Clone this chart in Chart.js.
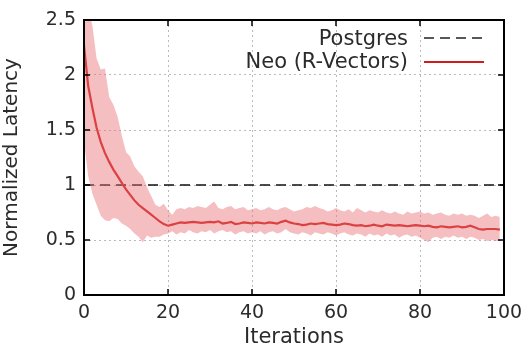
<!DOCTYPE html>
<html>
<head>
<meta charset="utf-8">
<script src="https://cdn.jsdelivr.net/npm/chart.js@4"></script>
<style>
  html, body { margin: 0; padding: 0; background: #fff; }
  #wrap { width: 532px; height: 350px; }
</style>
</head>
<body>
<div id="wrap"><canvas id="latencyChart" width="532" height="350"></canvas></div>
<script>
// iterations 0..99
const iterations = Array.from({ length: 100 }, (_, i) => i);

const neoMean = [
  2.27, 1.90, 1.70, 1.52, 1.39, 1.29, 1.21, 1.14, 1.08, 1.02,
  0.96, 0.91, 0.86, 0.82, 0.79, 0.76, 0.73, 0.70, 0.67, 0.645,
  0.63, 0.64, 0.65, 0.66, 0.655, 0.66, 0.665, 0.66, 0.655, 0.66,
  0.665, 0.66, 0.67, 0.65, 0.655, 0.665, 0.645, 0.65, 0.66, 0.655,
  0.65, 0.66, 0.655, 0.65, 0.66, 0.655, 0.65, 0.665, 0.675, 0.66,
  0.65, 0.645, 0.635, 0.64, 0.65, 0.645, 0.65, 0.655, 0.645, 0.64,
  0.635, 0.64, 0.65, 0.645, 0.635, 0.63, 0.635, 0.625, 0.63, 0.64,
  0.63, 0.625, 0.64, 0.635, 0.63, 0.635, 0.63, 0.625, 0.63, 0.635,
  0.63, 0.625, 0.63, 0.62, 0.615, 0.625, 0.62, 0.615, 0.62, 0.625,
  0.615, 0.62, 0.63, 0.615, 0.60, 0.595, 0.60, 0.60, 0.60, 0.595
];

const neoUpper = [
  2.65, 2.60, 2.45, 2.15, 2.05, 2.06, 1.80, 1.73, 1.62, 1.45,
  1.30, 1.26, 1.17, 1.12, 1.08, 0.98, 0.90, 0.82, 0.80, 0.83,
  0.77, 0.73, 0.78, 0.79, 0.78, 0.80, 0.79, 0.81, 0.80, 0.79,
  0.82, 0.85, 0.79, 0.78, 0.80, 0.81, 0.78, 0.79, 0.80, 0.77,
  0.78, 0.79, 0.77, 0.78, 0.80, 0.78, 0.77, 0.79, 0.80, 0.78,
  0.76, 0.77, 0.78, 0.80, 0.79, 0.81, 0.79, 0.78, 0.76, 0.77,
  0.79, 0.77, 0.76, 0.78, 0.75, 0.79, 0.77, 0.75, 0.77, 0.76,
  0.75, 0.77, 0.75, 0.74, 0.76, 0.74, 0.73, 0.76, 0.74, 0.75,
  0.76, 0.74, 0.75, 0.73, 0.74, 0.75, 0.73, 0.72, 0.74, 0.73,
  0.74, 0.72, 0.73, 0.72, 0.70, 0.72, 0.74, 0.71, 0.72, 0.71
];

const neoLower = [
  1.40, 1.08, 0.92, 0.82, 0.72, 0.68, 0.67, 0.70, 0.69, 0.65,
  0.63, 0.60, 0.56, 0.53, 0.48, 0.54, 0.52, 0.53, 0.53, 0.55,
  0.56, 0.58, 0.55, 0.57, 0.56, 0.59, 0.57, 0.56, 0.58, 0.57,
  0.59, 0.56, 0.58, 0.59, 0.57, 0.58, 0.55, 0.57, 0.58, 0.56,
  0.57, 0.56, 0.58, 0.55, 0.57, 0.58, 0.56, 0.57, 0.60, 0.57,
  0.56, 0.55, 0.57, 0.56, 0.54, 0.57, 0.56, 0.55, 0.57, 0.56,
  0.54, 0.56, 0.57, 0.55, 0.54, 0.56, 0.55, 0.53, 0.56, 0.54,
  0.55, 0.53, 0.56, 0.54, 0.55, 0.52, 0.54, 0.55, 0.53, 0.54,
  0.52, 0.50, 0.48, 0.52, 0.53, 0.51, 0.53, 0.52, 0.54, 0.52,
  0.53, 0.51, 0.53, 0.52, 0.50, 0.51, 0.49, 0.50, 0.49, 0.49
];

const postgresX = [0, 100];
const postgresY = [1, 1];

const xTicks = [0, 20, 40, 60, 80, 100];
const yTicks = [0, 0.5, 1, 1.5, 2, 2.5];

const FONT = "'DejaVu Sans', sans-serif";
const TEXT = "#2b2b2b";
const RED = "#d01c1c";

const pts = (xs, ys) => xs.map((x, i) => ({ x: x, y: ys[i] }));

// gnuplot style frame + inward ticks + legend
const framePlugin = {
  id: "frame",
  afterDraw(chart) {
    const { ctx, chartArea: a, scales } = chart;
    ctx.save();
    ctx.strokeStyle = "#000";
    ctx.lineWidth = 1.5;
    xTicks.forEach(v => {
      const px = scales.x.getPixelForValue(v);
      ctx.beginPath();
      ctx.moveTo(px, a.bottom); ctx.lineTo(px, a.bottom - 6);
      ctx.moveTo(px, a.top); ctx.lineTo(px, a.top + 6);
      ctx.stroke();
    });
    yTicks.forEach(v => {
      const py = scales.y.getPixelForValue(v);
      ctx.beginPath();
      ctx.moveTo(a.left, py); ctx.lineTo(a.left + 6, py);
      ctx.moveTo(a.right, py); ctx.lineTo(a.right - 6, py);
      ctx.stroke();
    });
    ctx.lineWidth = 2;
    ctx.strokeRect(a.left, a.top, a.right - a.left, a.bottom - a.top);

    // legend
    ctx.font = "21px " + FONT;
    ctx.fillStyle = TEXT;
    ctx.textAlign = "right";
    ctx.textBaseline = "middle";
    const tx = 408, lx0 = 424, lx1 = 484;
    ctx.fillText("Postgres", tx, 40);
    ctx.fillText("Neo (R-Vectors)", tx, 63);
    ctx.lineWidth = 1.7;
    ctx.strokeStyle = "#222";
    ctx.setLineDash([10, 6]);
    ctx.beginPath(); ctx.moveTo(lx0, 38); ctx.lineTo(lx1, 38); ctx.stroke();
    ctx.setLineDash([]);
    ctx.strokeStyle = RED;
    ctx.lineWidth = 2.2;
    ctx.beginPath(); ctx.moveTo(lx0, 62); ctx.lineTo(lx1, 62); ctx.stroke();
    ctx.restore();
  }
};

new Chart(document.getElementById("latencyChart"), {
  type: "line",
  data: {
    datasets: [
      {
        data: pts(iterations, neoUpper),
        borderWidth: 0,
        pointRadius: 0,
        backgroundColor: "rgba(232, 110, 116, 0.45)",
        fill: "+1"
      },
      {
        data: pts(iterations, neoLower),
        borderWidth: 0,
        pointRadius: 0,
        fill: false
      },
      {
        label: "Neo (R-Vectors)",
        data: pts(iterations, neoMean),
        borderColor: RED,
        borderWidth: 2.2,
        pointRadius: 0,
        fill: false
      },
      {
        label: "Postgres",
        data: pts(postgresX, postgresY),
        borderColor: "#111",
        borderWidth: 1.7,
        borderDash: [10, 6],
        pointRadius: 0,
        fill: false
      }
    ]
  },
  options: {
    responsive: false,
    animation: false,
    layout: { padding: { top: 20, right: 28, left: 0, bottom: 0 } },
    plugins: { legend: { display: false }, tooltip: { enabled: false } },
    scales: {
      x: {
        type: "linear",
        min: 0,
        max: 100,
        afterBuildTicks: s => { s.ticks = xTicks.map(v => ({ value: v })); },
        afterFit: s => { s.height = 55; },
        grid: { color: "#bbb", lineWidth: 1, drawTicks: false },
        border: { display: false, dash: [2, 3] },
        ticks: { padding: 7, color: TEXT, font: { family: FONT, size: 19 } },
        title: {
          display: true, text: "Iterations", color: TEXT,
          font: { family: FONT, size: 21 }, padding: { top: 0, bottom: 0 }
        }
      },
      y: {
        min: 0,
        max: 2.5,
        afterBuildTicks: s => { s.ticks = yTicks.map(v => ({ value: v })); },
        afterFit: s => { s.width = 84; },
        grid: { color: "#bbb", lineWidth: 1, drawTicks: false },
        border: { display: false, dash: [2, 3] },
        ticks: {
          padding: 8, color: TEXT, font: { family: FONT, size: 19 },
          callback: v => String(v)
        },
        title: {
          display: true, text: "Normalized Latency", color: TEXT,
          font: { family: FONT, size: 20 }, padding: { top: 0, bottom: 2 }
        }
      }
    }
  },
  plugins: [framePlugin]
});
</script>
</body>
</html>
